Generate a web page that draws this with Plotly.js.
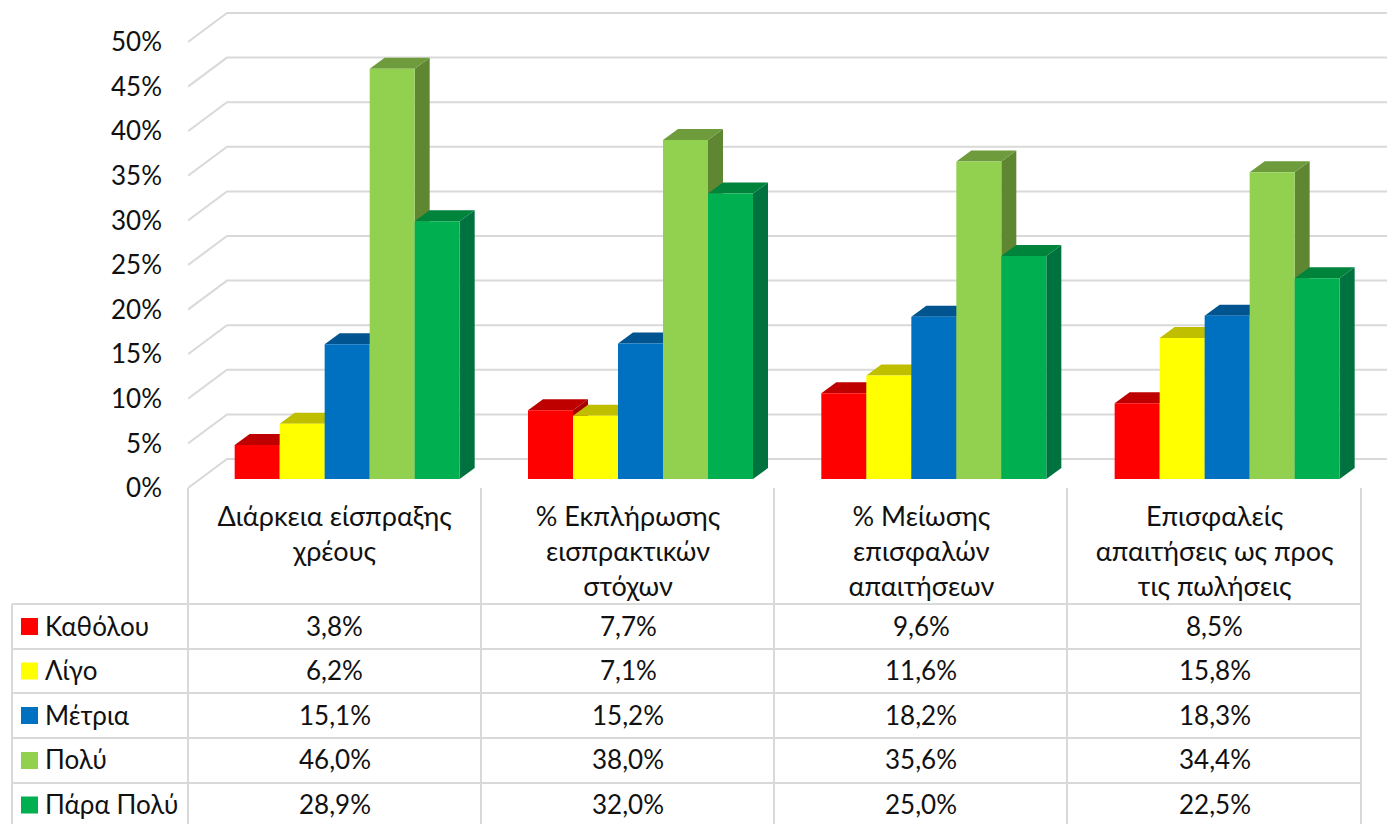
<!DOCTYPE html>
<html><head><meta charset="utf-8">
<script src="https://cdn.plot.ly/plotly-3.0.1.min.js"></script>
<style>html,body{margin:0;padding:0;background:#fff;overflow:hidden}</style>
</head><body><div id="chart" style="width:1387px;height:824px"></div>
<script>
const categories = ['Διάρκεια είσπραξης<br>χρέους','% Εκπλήρωσης<br>εισπρακτικών<br>στόχων','% Μείωσης<br>επισφαλών<br>απαιτήσεων','Επισφαλείς<br>απαιτήσεις ως προς<br>τις πωλήσεις'];
const seriesNames = ['Καθόλου','Λίγο','Μέτρια','Πολύ','Πάρα Πολύ'];
const katholou = [3.8,7.7,9.6,8.5];
const ligo = [6.2,7.1,11.6,15.8];
const metria = [15.1,15.2,18.2,18.3];
const poly = [46.0,38.0,35.6,34.4];
const paraPoly = [28.9,32.0,25.0,22.5];
const seriesValues = [katholou,ligo,metria,poly,paraPoly];
const frontColors = ['#FF0000','#FFFF00','#0070C0','#92D050','#00B050'];
const topColors = ['#BF0000','#BFBF00','#005490','#6E9C3C','#00843C'];
const sideColors = ['#A60000','#A6A600','#00497D','#5F8731','#00723F'];
const yTicks = [0,5,10,15,20,25,30,35,40,45,50];

// pixel frame of the reference
const W = 1387, H = 824, L = 188, Y0 = 488;
const catPx = 293.33, valPx = 8.92;
const FONT = 'Lato, Carlito, "Noto Sans", sans-serif';
const FS = 26, FS_CAT = 27;
const xMax = (W - L) / catPx, yMax = Y0 / valPx;
const dxBar = 15 / catPx, dyBar = 11 / valPx;
const dxWall = 39 / catPx, dyWall = 29 / valPx;
const barBase = 9 / valPx, barShift = 12.5 / catPx;
const groupW = 225 / catPx, barW = groupW / 5;
const xCenters = categories.map((c, i) => i + 0.5);

const traces = [];
// back wall gridlines
const gx = [], gy = [];
yTicks.forEach(t => { gx.push(0, dxWall, xMax, null); gy.push(t, t + dyWall, t + dyWall, null); });
traces.push({type:'scatter', mode:'lines', x:gx, y:gy, line:{color:'#D9D9D9', width:2}, hoverinfo:'skip', showlegend:false, xaxis:'x', yaxis:'y'});

// side and top faces, left to right
seriesValues.forEach((vals, s) => {
  const sx = [], sy = [], tx = [], ty = [];
  vals.forEach((v, i) => {
    const l = xCenters[i] + barShift - groupW / 2 + s * barW, r = l + barW, top = barBase + v;
    sx.push(r, r + dxBar, r + dxBar, r, r, null);
    sy.push(barBase, barBase + dyBar, top + dyBar, top, barBase, null);
    tx.push(l, l + dxBar, r + dxBar, r, l, null);
    ty.push(top, top + dyBar, top + dyBar, top, top, null);
  });
  traces.push({type:'scatter', mode:'lines', x:sx, y:sy, fill:'toself', fillcolor:sideColors[s], line:{width:0, color:sideColors[s]}, hoverinfo:'skip', showlegend:false, xaxis:'x', yaxis:'y'});
  traces.push({type:'scatter', mode:'lines', x:tx, y:ty, fill:'toself', fillcolor:topColors[s], line:{width:0, color:topColors[s]}, hoverinfo:'skip', showlegend:false, xaxis:'x', yaxis:'y'});
});

// front faces
seriesValues.forEach((vals, s) => {
  traces.push({type:'bar', name:seriesNames[s], x:xCenters.map(c => c + barShift), y:vals,
    base:vals.map(() => barBase), marker:{color:frontColors[s], line:{width:0}}, showlegend:false, xaxis:'x2', yaxis:'y2'});
});

// table
const px = x => (x - L) / (W - L);
const py = y => (Y0 - y) / Y0;
const rowY = [604, 649, 693, 738, 783, 828];
const colX = [L, 481, 774, 1067, 1361];
const lineStyle = {color:'#D9D9D9', width:2};
const shapes = [], annotations = [];
const seg = (x0, y0, x1, y1) => shapes.push({type:'line', xref:'paper', yref:'paper', x0:px(x0), x1:px(x1), y0:py(y0), y1:py(y1), line:lineStyle});
colX.forEach(x => seg(x, Y0, x, 828));
seg(12, 604, 12, 828);
rowY.forEach(y => seg(12, y, 1361, y));
seriesNames.forEach((name, s) => {
  const mid = (rowY[s] + rowY[s + 1]) / 2;
  const c = s === 4 ? 805 : mid;
  shapes.push({type:'rect', xref:'paper', yref:'paper', x0:px(21), x1:px(38), y0:py(c - 8.5), y1:py(c + 8.5), fillcolor:frontColors[s], line:{width:0}});
  annotations.push({xref:'paper', yref:'paper', x:px(43), y:py(c - 1), xanchor:'left', yanchor:'middle', showarrow:false, text:name, font:{family:FONT, size:FS, color:'#111'}});
  seriesValues[s].forEach((v, i) => {
    annotations.push({xref:'x', yref:'paper', x:xCenters[i], y:py(c - 1), xanchor:'center', yanchor:'middle', showarrow:false,
      text:v.toFixed(1).replace('.', ',') + '%', font:{family:FONT, size:FS, color:'#111'}});
  });
});

const layout = {
  width:W, height:H, margin:{l:L, r:0, t:0, b:H - Y0, pad:0}, paper_bgcolor:'#fff', plot_bgcolor:'#fff',
  showlegend:false, barmode:'group', bargap:1 - groupW, bargroupgap:0,
  font:{family:FONT, size:FS, color:'#111'},
  xaxis:{range:[0, xMax], tickmode:'array', tickvals:xCenters, ticktext:categories, showgrid:false, zeroline:false, showline:false, ticks:'', ticklabelstandoff:10, tickangle:0, tickfont:{family:FONT, size:FS_CAT, color:'#111'}},
  yaxis:{range:[0, yMax], tickmode:'array', tickvals:yTicks, ticktext:yTicks.map(t => t + '%'), showgrid:false, zeroline:false, showline:false, ticks:'', ticklabelstandoff:25, tickfont:{family:FONT, size:FS, color:'#111'}},
  xaxis2:{range:[0, xMax], overlaying:'x', visible:false, anchor:'y2'},
  yaxis2:{range:[0, yMax], overlaying:'y', visible:false, anchor:'x2'},
  shapes, annotations
};
Plotly.newPlot('chart', traces, layout, {displayModeBar:false, responsive:false});
</script></body></html>
